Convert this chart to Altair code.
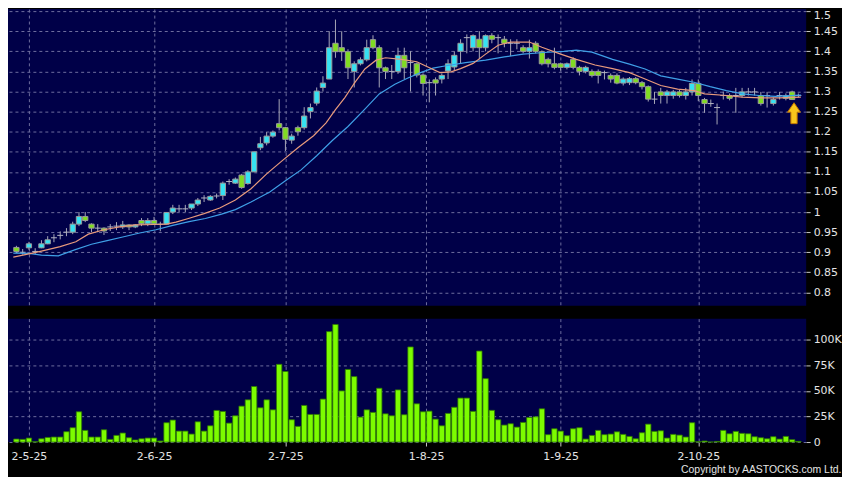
import altair as alt
import pandas as pd

# ---------------- data ----------------
opens = [0.912, 0.900, 0.911, 0.902, 0.911, 0.921, 0.936, 0.942, 0.950, 0.950,
         0.970, 0.989, 0.970, 0.960, 0.960, 0.963, 0.965, 0.963, 0.968, 0.963,
         0.979, 0.971, 0.979, 0.970, 0.970, 1.000, 1.008, 1.008, 1.010, 1.020,
         1.035, 1.030, 1.040, 1.041, 1.076, 1.072, 1.092, 1.071, 1.100, 1.160,
         1.172, 1.189, 1.220, 1.210, 1.179, 1.210, 1.210, 1.250, 1.271, 1.310,
         1.331, 1.420, 1.409, 1.399, 1.350, 1.369, 1.379, 1.429, 1.409, 1.359,
         1.350, 1.350, 1.390, 1.372, 1.369, 1.341, 1.322, 1.329, 1.331, 1.351,
         1.361, 1.400, 1.434, 1.409, 1.430, 1.409, 1.439, 1.434, 1.430, 1.420,
         1.420, 1.409, 1.400, 1.420, 1.399, 1.380, 1.369, 1.369, 1.360, 1.380,
         1.360, 1.350, 1.350, 1.350, 1.347, 1.340, 1.340, 1.321, 1.322, 1.332,
         1.322, 1.312, 1.281, 1.299, 1.290, 1.290, 1.299, 1.290, 1.299, 1.320,
         1.280, 1.270, 1.260, 1.290, 1.290, 1.290, 1.290, 1.299, 1.299, 1.290,
         1.290, 1.270, 1.290, 1.283, 1.299, 1.290]
highs = [0.916, 0.908, 0.926, 0.910, 0.930, 0.940, 0.945, 0.952, 0.960, 0.976,
         1.000, 1.000, 0.972, 0.970, 0.962, 0.970, 0.975, 0.978, 0.970, 0.970,
         0.985, 0.985, 0.988, 0.976, 1.000, 1.018, 1.018, 1.018, 1.020, 1.035,
         1.042, 1.042, 1.046, 1.076, 1.082, 1.086, 1.095, 1.104, 1.150, 1.187,
         1.199, 1.203, 1.281, 1.212, 1.195, 1.215, 1.261, 1.270, 1.310, 1.338,
         1.450, 1.479, 1.450, 1.405, 1.375, 1.385, 1.429, 1.440, 1.415, 1.362,
         1.366, 1.409, 1.409, 1.400, 1.372, 1.345, 1.330, 1.335, 1.345, 1.380,
         1.400, 1.430, 1.442, 1.442, 1.450, 1.442, 1.445, 1.442, 1.438, 1.430,
         1.430, 1.415, 1.429, 1.425, 1.402, 1.384, 1.409, 1.372, 1.372, 1.385,
         1.364, 1.364, 1.355, 1.355, 1.352, 1.345, 1.345, 1.335, 1.336, 1.336,
         1.326, 1.315, 1.299, 1.309, 1.304, 1.304, 1.304, 1.309, 1.330, 1.330,
         1.284, 1.280, 1.270, 1.300, 1.295, 1.309, 1.309, 1.309, 1.309, 1.299,
         1.299, 1.285, 1.299, 1.295, 1.302, 1.295]
lows = [0.898, 0.894, 0.906, 0.895, 0.910, 0.920, 0.925, 0.932, 0.940, 0.945,
        0.965, 0.975, 0.950, 0.950, 0.943, 0.953, 0.955, 0.958, 0.955, 0.960,
        0.965, 0.965, 0.968, 0.952, 0.970, 0.995, 1.000, 1.000, 1.005, 1.015,
        1.025, 1.028, 1.034, 1.030, 1.068, 1.070, 1.058, 1.068, 1.100, 1.154,
        1.166, 1.185, 1.203, 1.152, 1.170, 1.190, 1.205, 1.233, 1.265, 1.300,
        1.331, 1.384, 1.376, 1.331, 1.310, 1.365, 1.375, 1.405, 1.310, 1.331,
        1.331, 1.344, 1.331, 1.300, 1.335, 1.290, 1.273, 1.290, 1.320, 1.331,
        1.351, 1.370, 1.395, 1.400, 1.380, 1.400, 1.420, 1.395, 1.410, 1.388,
        1.405, 1.395, 1.382, 1.395, 1.365, 1.360, 1.355, 1.352, 1.355, 1.355,
        1.340, 1.345, 1.335, 1.320, 1.330, 1.322, 1.318, 1.315, 1.316, 1.318,
        1.305, 1.275, 1.269, 1.270, 1.270, 1.282, 1.285, 1.280, 1.290, 1.276,
        1.247, 1.262, 1.218, 1.280, 1.278, 1.247, 1.285, 1.290, 1.290, 1.265,
        1.260, 1.265, 1.280, 1.278, 1.280, 1.285]
closes = [0.902, 0.900, 0.921, 0.902, 0.921, 0.931, 0.936, 0.942, 0.950, 0.970,
          0.989, 0.979, 0.960, 0.960, 0.953, 0.963, 0.965, 0.968, 0.963, 0.968,
          0.971, 0.979, 0.971, 0.970, 0.999, 1.010, 1.008, 1.008, 1.020, 1.030,
          1.035, 1.039, 1.040, 1.072, 1.076, 1.082, 1.061, 1.100, 1.150, 1.170,
          1.189, 1.199, 1.210, 1.181, 1.189, 1.200, 1.239, 1.260, 1.301, 1.321,
          1.409, 1.399, 1.399, 1.359, 1.369, 1.379, 1.409, 1.409, 1.359, 1.350,
          1.350, 1.390, 1.359, 1.372, 1.341, 1.320, 1.322, 1.321, 1.340, 1.369,
          1.390, 1.420, 1.434, 1.439, 1.409, 1.439, 1.430, 1.434, 1.420, 1.420,
          1.420, 1.400, 1.409, 1.400, 1.369, 1.369, 1.360, 1.360, 1.369, 1.360,
          1.350, 1.360, 1.340, 1.340, 1.347, 1.331, 1.321, 1.331, 1.332, 1.322,
          1.312, 1.281, 1.281, 1.290, 1.299, 1.299, 1.290, 1.299, 1.320, 1.290,
          1.270, 1.270, 1.260, 1.290, 1.283, 1.290, 1.299, 1.299, 1.299, 1.270,
          1.290, 1.280, 1.290, 1.290, 1.280, 1.290]
volumes_k = [2.9, 2.6, 3.9, 0.3, 3.2, 4.5, 4.9, 4.9, 10.1, 14.0,
             29.6, 11.4, 4.9, 4.9, 12.0, 2.6, 6.5, 8.8, 4.2, 2.0,
             3.2, 3.9, 3.9, 1.0, 18.9, 21.5, 10.7, 10.7, 7.8, 19.8,
             10.7, 15.9, 30.9, 29.9, 18.5, 25.7, 35.1, 41.3, 54.3, 33.5,
             41.3, 31.5, 76.0, 69.0, 21.8, 15.3, 35.8, 27.0, 27.0, 42.0,
             108.0, 115.0, 50.0, 71.0, 64.0, 24.4, 31.5, 29.0, 52.6, 27.6,
             25.7, 51.0, 26.7, 93.0, 37.4, 29.6, 30.2, 22.4, 15.9, 28.0,
             34.0, 43.0, 43.0, 30.0, 89.0, 62.0, 31.0, 21.8, 16.6, 17.9,
             14.6, 19.2, 24.0, 24.7, 32.5, 7.2, 13.0, 10.7, 6.2, 13.0,
             14.0, 2.9, 6.5, 11.4, 7.2, 7.8, 10.0, 7.5, 5.5, 3.2,
             9.1, 17.5, 10.4, 11.0, 3.9, 7.5, 6.8, 4.9, 18.9, 0.3,
             1.0, 0.0, 0.6, 11.4, 8.1, 10.4, 8.5, 8.1, 5.2, 4.2,
             3.2, 5.2, 2.9, 5.5, 2.3, 0.6]

ma10_x = [-0.5, 2, 4, 7, 9.5, 11.5, 14, 16.5, 19, 22, 24, 25.5, 27.5, 30, 32.5,
          35, 37.5, 40, 42.5, 45, 47.5, 49.5, 51, 52.5, 54, 55.7, 57.5, 59, 61.5,
          64, 65.6, 67.7, 69.5, 71, 73, 75, 77, 79, 82, 84, 87, 89.5, 92.5, 95.3,
          98, 100.5, 103, 105.7, 108.3, 110, 113.5, 116, 119, 122, 125.4]
ma10_y = [0.888, 0.896, 0.903, 0.914, 0.926, 0.945, 0.956, 0.963, 0.968, 0.969,
          0.970, 0.975, 0.984, 0.996, 1.010, 1.030, 1.058, 1.095, 1.128, 1.160,
          1.190, 1.222, 1.255, 1.285, 1.320, 1.356, 1.378, 1.384, 1.380, 1.374,
          1.362, 1.347, 1.349, 1.357, 1.370, 1.393, 1.415, 1.423, 1.423, 1.410,
          1.393, 1.380, 1.366, 1.357, 1.347, 1.331, 1.315, 1.306, 1.302, 1.294,
          1.290, 1.286, 1.284, 1.284, 1.286]
ma20_x = [-0.5, 2, 4, 6.7, 9.3, 12, 14.5, 17, 19.7, 22.3, 25, 27.6, 30.2, 32.8,
          35, 37.5, 40.5, 43, 45.5, 48, 50.5, 53, 55.7, 58, 60.5, 62.5, 64.6,
          66.6, 68.7, 71.8, 75, 78, 81, 84.3, 87.5, 89.5, 92, 95.3, 98, 100.5,
          103, 105.7, 108.3, 110.9, 113.5, 116.1, 118.7, 121.3, 125.4]
ma20_y = [0.898, 0.897, 0.893, 0.891, 0.906, 0.920, 0.929, 0.938, 0.948, 0.956,
          0.967, 0.976, 0.984, 0.995, 1.006, 1.025, 1.050, 1.078, 1.105, 1.140,
          1.178, 1.213, 1.256, 1.294, 1.318, 1.333, 1.347, 1.358, 1.364, 1.372,
          1.378, 1.386, 1.393, 1.397, 1.400, 1.403, 1.398, 1.380, 1.368, 1.356,
          1.339, 1.331, 1.323, 1.312, 1.302, 1.294, 1.290, 1.288, 1.291]

date_labels = ["2-5-25", "2-6-25", "2-7-25", "1-8-25", "1-9-25", "2-10-25"]
date_pos = [2, 22, 43, 65.5, 87, 109]
price_ticks = [0.8, 0.85, 0.9, 0.95, 1.0, 1.05, 1.1, 1.15, 1.2, 1.25, 1.3,
               1.35, 1.4, 1.45, 1.5]
vol_ticks = [0, 25, 50, 75, 100]
arrow_x = [124.3]
arrow_y = [1.246]
copyright_text = "Copyright by AASTOCKS.com Ltd."

# ---------------- tables ----------------
df = pd.DataFrame({"i": list(range(len(opens))), "open": opens, "high": highs,
                   "low": lows, "close": closes, "vol": volumes_k})
df["body_lo"] = df[["open", "close"]].min(axis=1)
df["body_hi"] = df[["open", "close"]].max(axis=1)
df["dir"] = ["up" if c > o else ("down" if c < o else "flat")
             for o, c in zip(opens, closes)]
boxes = df[df["dir"] != "flat"]
flats = df[df["dir"] == "flat"]
ma10 = pd.DataFrame({"i": ma10_x, "v": ma10_y})
ma20 = pd.DataFrame({"i": ma20_x, "v": ma20_y})
arrow = pd.DataFrame({"i": arrow_x, "v": arrow_y})

# ---------------- styles ----------------
FONT = "DejaVu Sans"
GRID = "#6e6e9e"
LABEL = "#e4e4e4"
TICK = "#c8c8c8"
W = 802

xscale = alt.Scale(domain=[-0.55, 125.45], nice=False, zero=False)
pscale = alt.Scale(domain=[0.767, 1.505], nice=False, zero=False)
vscale = alt.Scale(domain=[0, 120.7], nice=False, zero=False)

x_top_axis = alt.Axis(values=date_pos, labels=False, ticks=False, domain=False,
                      title=None, grid=True, gridColor=GRID, gridDash=[3, 3])

date_expr = "".join(f"datum.value == {p} ? '{l}' : " for p, l in zip(date_pos, date_labels)) + "''"
x_bot_axis = alt.Axis(values=date_pos, labelExpr=date_expr, domain=False,
                      tickSize=4, tickColor=TICK, labelPadding=5,
                      labelColor=LABEL, labelFont=FONT, labelFontSize=11,
                      grid=True, gridColor=GRID, gridDash=[3, 3],
                      title=copyright_text, titleAnchor="end", titleAlign="right",
                      titleX=837, titleY=28, titleBaseline="middle",
                      titleColor=LABEL, titleFont="Liberation Sans",
                      titleFontSize=10.5, titleFontWeight="normal")

y_price_axis = alt.Axis(orient="right", values=price_ticks, format=".2~f",
                        title=None, domain=False, tickSize=4, tickColor=TICK,
                        labelPadding=3, labelColor=LABEL, labelFont=FONT,
                        labelFontSize=11, labelFlush=4, labelFlushOffset=2,
                        grid=True, gridColor=GRID, gridDash=[3, 3])
y_vol_axis = alt.Axis(orient="right", values=vol_ticks,
                      labelExpr="datum.value == 0 ? '0' : datum.value + 'K'",
                      title=None, domain=False, tickSize=4, tickColor=TICK,
                      labelPadding=3, labelColor=LABEL, labelFont=FONT,
                      labelFontSize=11, grid=True, gridColor=GRID,
                      gridDash=[3, 3])

X = alt.X("i:Q", scale=xscale, axis=x_top_axis)

wick = alt.Chart(df).mark_rule(color="#a8a8b8", strokeWidth=1).encode(
    x=X, y=alt.Y("low:Q", scale=pscale, axis=y_price_axis), y2="high:Q")

flat = alt.Chart(flats).mark_rule(color="#b4b4c4", strokeWidth=1,
                                  xOffset=-3, x2Offset=3).encode(
    x=X, x2="i:Q",
    y=alt.Y("open:Q", scale=pscale, axis=y_price_axis))

body = alt.Chart(boxes).mark_bar(size=5.3, stroke="#9a9a9a", strokeWidth=1).encode(
    x=X,
    y=alt.Y("body_lo:Q", scale=pscale, axis=y_price_axis), y2="body_hi:Q",
    color=alt.Color("dir:N", scale=alt.Scale(domain=["up", "down"],
                                            range=["#36e2f2", "#80dc22"]),
                    legend=None))

line20 = alt.Chart(ma20).mark_line(color="#3f9fe6", strokeWidth=1.2, clip=True).encode(
    x=X, y=alt.Y("v:Q", scale=pscale, axis=y_price_axis))
line10 = alt.Chart(ma10).mark_line(color="#e89a7c", strokeWidth=1.2, clip=True).encode(
    x=X, y=alt.Y("v:Q", scale=pscale, axis=y_price_axis))

arrow_path = "M0,-1 L0.62,-0.1 L0.3,-0.1 L0.3,1 L-0.3,1 L-0.3,-0.1 L-0.62,-0.1 Z"
arrow_mark = alt.Chart(arrow).mark_point(shape=arrow_path, size=441, filled=True,
                                         fill="#f8c61c", stroke="#c07400",
                                         strokeWidth=1, opacity=1).encode(
    x=X, y=alt.Y("v:Q", scale=pscale, axis=y_price_axis))

upper = alt.layer(wick, flat, body, line20, line10, arrow_mark).properties(
    width=W, height=298)

lower = alt.Chart(df).mark_bar(size=5.4, fill="#7cfc00", stroke="#2f7a00",
                               strokeWidth=0.8).encode(
    x=alt.X("i:Q", scale=xscale, axis=x_bot_axis),
    y=alt.Y("vol:Q", scale=vscale, axis=y_vol_axis)).properties(width=W, height=124)

chart = alt.vconcat(upper, lower, spacing=13).properties(
    padding={"left": 0, "top": 0, "right": 0, "bottom": 0},
    background="#000000",
).configure_view(fill="#000048", stroke=None)

chart.save("out.html", embed_options={"renderer": "svg", "actions": False})
